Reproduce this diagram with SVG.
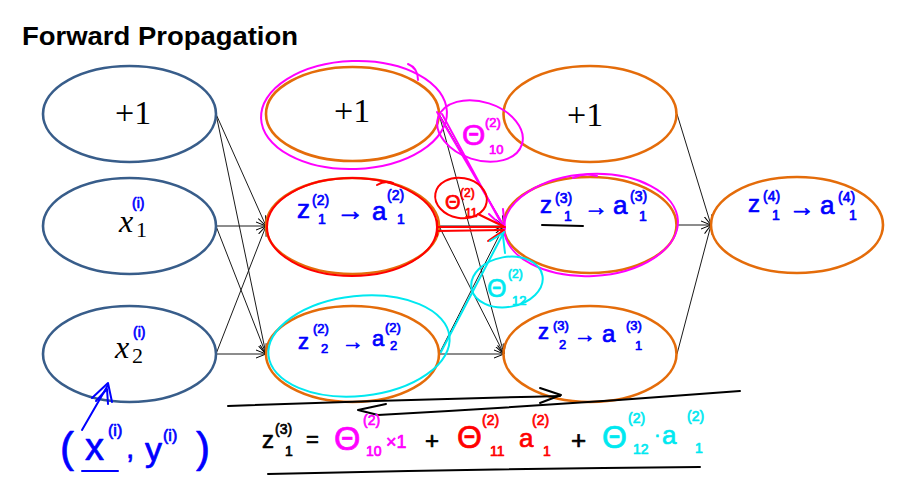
<svg xmlns="http://www.w3.org/2000/svg" width="899" height="487" viewBox="0 0 899 487">
<style>
.bg{fill:#fff}
.nin{fill:none;stroke:#385D8A;stroke-width:2.6}
.nor{fill:none;stroke:#E46C0A;stroke-width:2.6}
.conn{fill:none;stroke:#1a1a1a;stroke-width:1;marker-end:url(#arr)}
.tex{font-family:"Liberation Serif",serif;fill:#000}
.hw{font-family:"Liberation Sans",sans-serif;stroke-width:0.7;stroke-linejoin:round}
.b{fill:#0000FF;stroke:#0000FF}.m{fill:#FF00FF;stroke:#FF00FF}.r{fill:#FF0000;stroke:#FF0000}.c{fill:#00E8F0;stroke:#00E8F0}.k{fill:#000;stroke:#000}
.pen{fill:none;stroke-linecap:round;stroke-linejoin:round;stroke-width:2}
.pb{stroke:#0000FF}.pm{stroke:#FF00FF}.pr{stroke:#FF0000}.pc{stroke:#00E8F0}.pk{stroke:#000}
.s{font-size:14px}
</style>
<defs>
<marker id="arr" viewBox="0 0 10 10" refX="10" refY="5" markerWidth="10" markerHeight="10" markerUnits="userSpaceOnUse" orient="auto">
<path d="M0,1 L10,5 L0,9" fill="none" stroke="#000" stroke-width="1"/>
</marker>
</defs>
<rect class="bg" x="0" y="0" width="899" height="487"/>
<text x="22" y="45" font-family="Liberation Sans,sans-serif" font-weight="bold" font-size="26" textLength="276" lengthAdjust="spacingAndGlyphs">Forward Propagation</text>

<g id="connectors">
<line class="conn" x1="216" y1="114" x2="266" y2="226"/>
<line class="conn" x1="216" y1="114" x2="266" y2="354"/>
<line class="conn" x1="216" y1="226" x2="266" y2="226"/>
<line class="conn" x1="216" y1="226" x2="266" y2="354"/>
<line class="conn" x1="216" y1="354" x2="266" y2="226"/>
<line class="conn" x1="216" y1="354" x2="266" y2="354"/>
<line class="conn" x1="439" y1="114" x2="504" y2="226"/>
<line class="conn" x1="439" y1="114" x2="504" y2="354"/>
<line class="conn" x1="439" y1="226" x2="504" y2="226"/>
<line class="conn" x1="439" y1="226" x2="504" y2="354"/>
<line class="conn" x1="439" y1="354" x2="504" y2="226"/>
<line class="conn" x1="439" y1="354" x2="504" y2="354"/>
<line class="conn" x1="677" y1="114" x2="711" y2="225"/>
<line class="conn" x1="677" y1="225" x2="711" y2="225"/>
<line class="conn" x1="677" y1="354" x2="711" y2="225"/>
</g>

<g id="node-bias1">
<ellipse class="nin" cx="129.5" cy="114" rx="86.5" ry="48"/>
<text class="tex" x="115" y="124" font-size="34">+1</text>
</g>
<g id="node-x1">
<ellipse class="nin" cx="129.5" cy="226" rx="86.5" ry="48"/>
<text class="tex" x="119" y="232" font-size="32" font-style="italic">x</text>
<text class="tex" x="136" y="237" font-size="22">1</text>
<text class="hw b s" x="132" y="208">(i)</text>
</g>
<g id="node-x2">
<ellipse class="nin" cx="129.5" cy="354" rx="86.5" ry="48"/>
<text class="tex" x="115" y="358" font-size="32" font-style="italic">x</text>
<text class="tex" x="132" y="363" font-size="22">2</text>
<text class="hw b s" x="133" y="337">(i)</text>
</g>

<g id="node-bias2">
<ellipse class="nor" cx="352.5" cy="114" rx="86.5" ry="47"/>
<text class="tex" x="334" y="122" font-size="34">+1</text>
</g>
<g id="node-a12">
<ellipse class="nor" cx="352.5" cy="226" rx="86.5" ry="48"/>
<text class="hw b" x="297" y="218" font-size="26">z</text>
<text class="hw b s" x="312" y="205">(2)</text>
<text class="hw b s" x="318" y="224">1</text>
<text class="hw b" x="336" y="220" font-size="28">→</text>
<text class="hw b" x="372" y="220" font-size="26">a</text>
<text class="hw b s" x="387" y="200">(2)</text>
<text class="hw b s" x="397" y="224">1</text>
</g>
<g id="node-a22">
<ellipse class="nor" cx="352.5" cy="354" rx="86.5" ry="48"/>
<text class="hw b" x="298" y="349" font-size="22">z</text>
<text class="hw b" x="313" y="333" font-size="13">(2)</text>
<text class="hw b" x="321" y="353" font-size="13">2</text>
<text class="hw b" x="342" y="349" font-size="22">→</text>
<text class="hw b" x="372" y="346" font-size="22">a</text>
<text class="hw b" x="385" y="332" font-size="13">(2)</text>
<text class="hw b" x="390" y="350" font-size="13">2</text>
</g>

<g id="node-bias3">
<ellipse class="nor" cx="590" cy="114" rx="86.5" ry="48"/>
<text class="tex" x="567" y="126" font-size="34">+1</text>
</g>
<g id="node-a13">
<ellipse class="nor" cx="590" cy="225" rx="86.5" ry="48"/>
<text class="hw b" x="540" y="213" font-size="24">z</text>
<text class="hw b s" x="555" y="203">(3)</text>
<text class="hw b s" x="564" y="221">1</text>
<text class="hw b" x="584" y="215" font-size="24">→</text>
<text class="hw b" x="613" y="214" font-size="26">a</text>
<text class="hw b s" x="630" y="201">(3)</text>
<text class="hw b s" x="639" y="221">1</text>
<path class="pen pk" d="M542,225 L583,226"/>
</g>
<g id="node-a23">
<ellipse class="nor" cx="590" cy="354" rx="86.5" ry="48"/>
<text class="hw b" x="538" y="339" font-size="22">z</text>
<text class="hw b" x="553" y="330" font-size="13">(3)</text>
<text class="hw b" x="559" y="349" font-size="13">2</text>
<text class="hw b" x="574" y="342" font-size="22">→</text>
<text class="hw b" x="602" y="342" font-size="24">a</text>
<text class="hw b" x="626" y="330" font-size="13">(3)</text>
<text class="hw b" x="635" y="350" font-size="13">1</text>
</g>

<g id="node-a14">
<ellipse class="nor" cx="797" cy="225" rx="86" ry="48"/>
<text class="hw b" x="748" y="212" font-size="24">z</text>
<text class="hw b s" x="763" y="201">(4)</text>
<text class="hw b s" x="772" y="220">1</text>
<text class="hw b" x="789" y="216" font-size="26">→</text>
<text class="hw b" x="820" y="214" font-size="26">a</text>
<text class="hw b s" x="838" y="202">(4)</text>
<text class="hw b s" x="849" y="220">1</text>
</g>

<g id="annotation-magenta">
<ellipse class="pen pm" cx="354" cy="115" rx="93" ry="54" transform="rotate(-2 354 115)"/>
<path class="pen pm" d="M408,64 Q418,68 418,80"/>
<ellipse class="pen pm" cx="591" cy="225" rx="87" ry="51" transform="rotate(-3 591 225)"/>
<path class="pen pm" d="M573,178 Q585,172 597,176"/>
<ellipse class="pen pm" cx="480" cy="131" rx="44" ry="29" transform="rotate(18 480 131)"/>
<path class="pen pm" d="M437,112 L505,228" stroke-width="3.5"/>
<path class="pen pm" d="M442,114 L500,221"/>
<path class="pen pm" d="M489,214 L505,229 L503,209"/>
<text class="hw m" x="462" y="145" font-size="30">Θ</text>
<text class="hw m" x="485" y="127" font-size="13">(2)</text>
<text class="hw m" x="489" y="154" font-size="13">10</text>
</g>

<g id="annotation-red">
<ellipse class="pen pr" cx="352" cy="227" rx="85" ry="49"/>
<path class="pen pr" d="M377,185 Q385,180 393,183"/>
<path class="pen pr" d="M437,227 L505,227 M437,231 L503,230" stroke-width="2.5"/>
<path class="pen pr" d="M437,221 L437,236 M488,241 L504,230"/>
<ellipse class="pen pr" cx="461" cy="198" rx="26" ry="20" transform="rotate(10 461 198)"/>
<path class="pen pr" d="M478,214 Q492,221 503,226"/>
<text class="hw r" x="445" y="209" font-size="20">Θ</text>
<text class="hw r" x="460" y="197" font-size="12">(2)</text>
<text class="hw r" x="465" y="217" font-size="12">11</text>
</g>

<g id="annotation-cyan">
<ellipse class="pen pc" cx="359" cy="346" rx="91" ry="50" transform="rotate(-6 359 346)"/>
<path class="pen pc" d="M441,352 L504,232"/>
<path class="pen pc" d="M490,241 L503,233 M503,236 L505,253"/>
<ellipse class="pen pc" cx="507" cy="282" rx="36" ry="25" transform="rotate(-10 507 282)"/>
<text class="hw c" x="487" y="297" font-size="25">Θ</text>
<text class="hw c" x="508" y="278" font-size="12">(2)</text>
<text class="hw c" x="512" y="305" font-size="13">12</text>
</g>

<g id="annotation-example">
<text class="hw b" x="60" y="462" font-size="42">(</text>
<text class="hw b" x="85" y="460" font-size="38">x</text>
<text class="hw b" x="108" y="436" font-size="16">(i)</text>
<text class="hw b" x="126" y="458" font-size="30">,</text>
<text class="hw b" x="145" y="461" font-size="34">y</text>
<text class="hw b" x="163" y="441" font-size="16">(i)</text>
<text class="hw b" x="196" y="462" font-size="42">)</text>
<path class="pen pb" d="M82,471 L118,471"/>
<path class="pen pb" d="M82,430 L108,385"/>
<path class="pen pb" d="M92,398 L108,383 L112,402 M96,401 L107,389 L108,404"/>
</g>

<g id="annotation-equation">
<path class="pen pk" d="M228,406 Q400,400 560,396"/>
<path class="pen pk" d="M540,388 L561,395 L540,403"/>
<path class="pen pk" d="M386,404 L358,410 L378,415 Q560,405 740,391"/>
<path class="pen pk" d="M268,474 Q480,469 700,467"/>
<text class="hw k" x="262" y="448" font-size="24">z</text>
<text class="hw k s" x="275" y="434">(3)</text>
<text class="hw k s" x="285" y="456">1</text>
<text class="hw k" x="306" y="447" font-size="22">=</text>
<text class="hw m" x="334" y="450" font-size="34">Θ</text>
<text class="hw m s" x="363" y="425">(2)</text>
<text class="hw m s" x="366" y="456">10</text>
<text class="hw m" x="386" y="448" font-size="18">×1</text>
<text class="hw k" x="425" y="449" font-size="24">+</text>
<text class="hw r" x="457" y="448" font-size="32">Θ</text>
<text class="hw r s" x="482" y="425">(2)</text>
<text class="hw r s" x="490" y="456">11</text>
<text class="hw r" x="519" y="447" font-size="26">a</text>
<text class="hw r s" x="532" y="425">(2)</text>
<text class="hw r s" x="543" y="456">1</text>
<text class="hw k" x="571" y="449" font-size="26">+</text>
<text class="hw c" x="602" y="448" font-size="32">Θ</text>
<text class="hw c s" x="628" y="423">(2)</text>
<text class="hw c s" x="633" y="454">12</text>
<text class="hw c" x="654" y="441" font-size="20">·</text>
<text class="hw c" x="662" y="444" font-size="26">a</text>
<text class="hw c s" x="687" y="421">(2)</text>
<text class="hw c s" x="695" y="453">1</text>
</g>
</svg>
